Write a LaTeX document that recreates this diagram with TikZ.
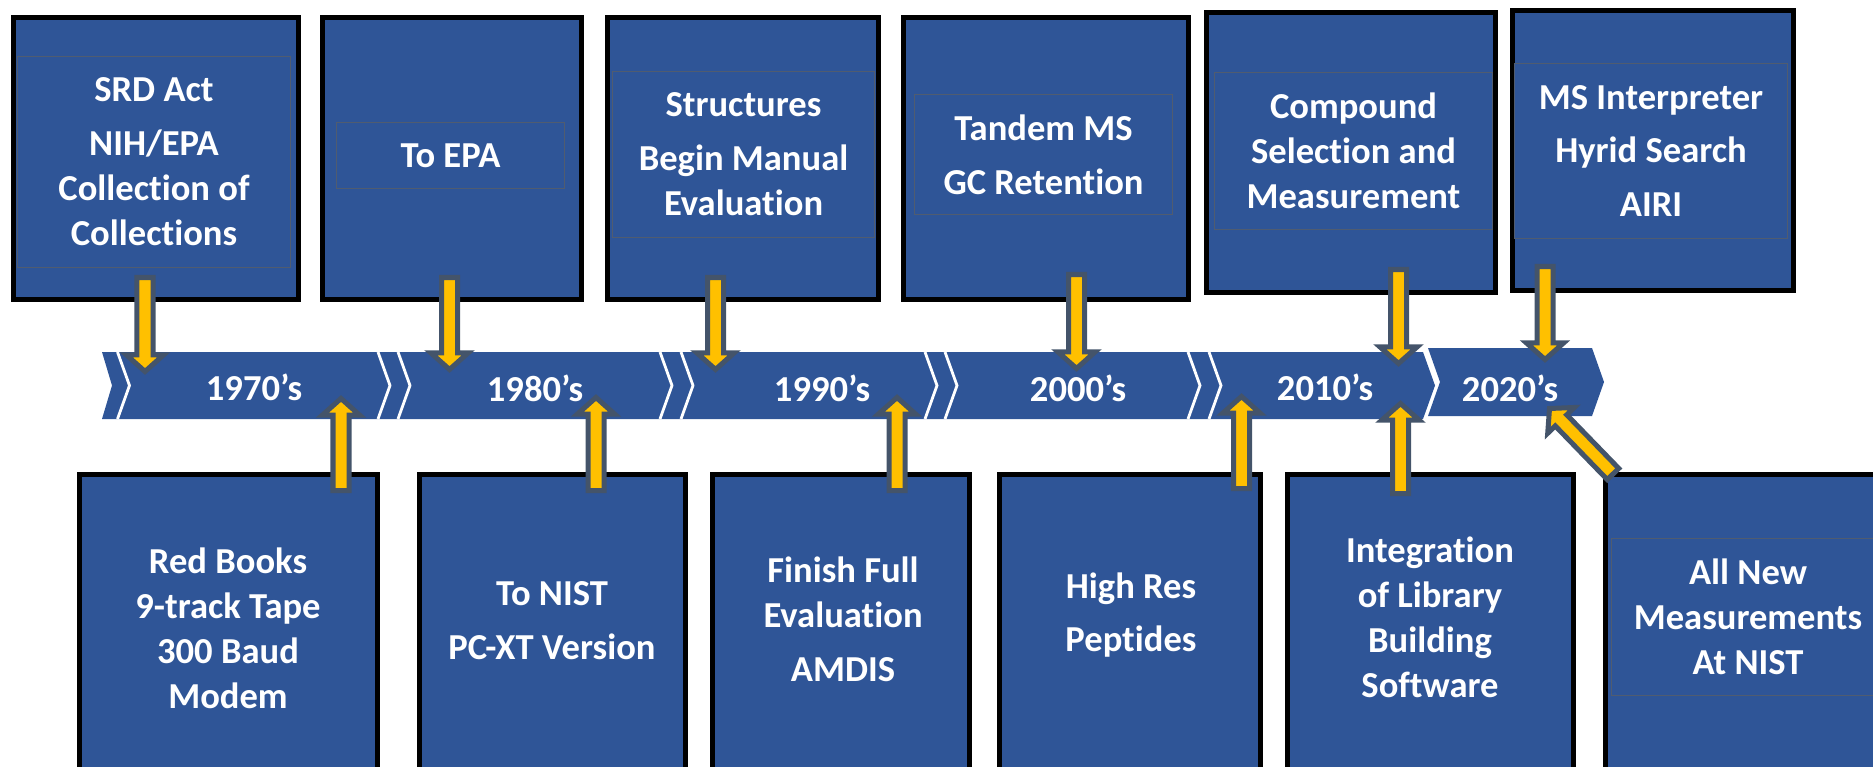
\documentclass[tikz,border=0pt]{standalone}
\usepackage{fontspec}
\setmainfont{Carlito}[Ligatures=CommonOff]
\usetikzlibrary{calc}

\definecolor{eventblue}{RGB}{47,85,151}
\definecolor{framegray}{RGB}{80,92,112}
\definecolor{arrowslate}{RGB}{68,84,106}
\definecolor{arrowgold}{RGB}{255,192,0}

\newcommand{\tlfont}{\fontsize{10.4pt}{12.8pt}\selectfont\bfseries}

\tikzset{
    eventbox/.style={draw=black, line width=0.5mm, fill=eventblue, inner sep=0pt},
    eventtext/.style={draw=framegray, line width=0.1mm, inner sep=0pt, text=white,
        align=center, font=\tlfont},
    bottomtext/.style={inner sep=0pt, text=white, align=center, font=\tlfont},
    decade/.style={inner sep=0pt, text=white, font=\tlfont},
    gapline/.style={draw=white, line width=0.28mm},
    blockarrow/.style={draw=arrowslate, fill=arrowgold, line width=0.5mm, line join=miter,
        to path={-- ($(\tikztostart)!0.8mm!90:(\tikztotarget)$)
            -- ($(\tikztotarget)!1.65mm!(\tikztostart)!0.8mm!-90:(\tikztostart)$)
            -- ($(\tikztotarget)!1.65mm!(\tikztostart)!1.85mm!-90:(\tikztostart)$)
            -- (\tikztotarget)
            -- ($(\tikztotarget)!1.65mm!(\tikztostart)!1.85mm!90:(\tikztostart)$)
            -- ($(\tikztotarget)!1.65mm!(\tikztostart)!0.8mm!90:(\tikztostart)$)
            -- ($(\tikztostart)!0.8mm!-90:(\tikztotarget)$)
            -- cycle}}
}

\begin{document}
\begin{tikzpicture}[x=0.01cm, y=-0.01cm]
    \useasboundingbox (0,0) rectangle (1873,767);
    \clip (0,0) rectangle (1873,767);

    \node[eventbox, minimum width=2.85cm, minimum height=2.82cm] (srd) at (156,158.5) {};
    \node[eventbox, minimum width=2.59cm, minimum height=2.82cm] (epa) at (452,158.5) {};
    \node[eventbox, minimum width=2.71cm, minimum height=2.82cm] (struct) at (743,158.5) {};
    \node[eventbox, minimum width=2.85cm, minimum height=2.82cm] (tandem) at (1046,158.5) {};
    \node[eventbox, minimum width=2.89cm, minimum height=2.80cm] (compound) at (1351,152.5) {};
    \node[eventbox, minimum width=2.81cm, minimum height=2.80cm] (interp) at (1653,150.5) {};

    \node[eventtext, minimum width=2.72cm, minimum height=2.10cm] (srdtext) at (154,162)
        {SRD Act\\[2.5pt] NIH/EPA\\ Collection of\\ Collections};
    \node[eventtext, minimum width=2.27cm, minimum height=0.65cm] (epatext) at (450.5,155.5)
        {To EPA};
    \node[eventtext, minimum width=2.61cm, minimum height=1.65cm] (structtext) at (743.5,154.5)
        {Structures\\[2.5pt] Begin Manual\\ Evaluation};
    \node[eventtext, minimum width=2.57cm, minimum height=1.19cm] (tandemtext) at (1043.5,154.5)
        {Tandem MS\\[2.5pt] GC Retention};
    \node[eventtext, minimum width=2.77cm, minimum height=1.56cm] (compoundtext) at (1353.5,151)
        {Compound\\ Selection and\\ Measurement};
    \node[eventtext, minimum width=2.72cm, minimum height=1.74cm] (interptext) at (1651,151)
        {MS Interpreter\\[2.5pt] Hyrid Search\\[2.5pt] AIRI};

    \node[eventbox, minimum width=2.98cm, minimum height=3.25cm] (redbooks) at (228.5,637) {};
    \node[eventbox, minimum width=2.66cm, minimum height=3.25cm] (nist) at (552.5,637) {};
    \node[eventbox, minimum width=2.57cm, minimum height=3.25cm] (finish) at (841,637) {};
    \node[eventbox, minimum width=2.61cm, minimum height=3.25cm] (highres) at (1130,637) {};
    \node[eventbox, minimum width=2.86cm, minimum height=3.25cm] (integr) at (1430.5,637) {};
    \node[eventbox, minimum width=2.85cm, minimum height=3.25cm] (allnew) at (1748,637) {};

    \node[bottomtext] (redbookstext) at (228,628) {Red Books\\ 9-track Tape\\ 300 Baud\\ Modem};
    \node[bottomtext] (nisttext) at (552,621) {To NIST\\[2.5pt] PC-XT Version};
    \node[bottomtext] (finishtext) at (843,619) {Finish Full\\ Evaluation\\[2.5pt] AMDIS};
    \node[bottomtext] (highrestext) at (1131,615) {High Res\\[2.5pt] Peptides};
    \node[bottomtext] (integrtext) at (1430,617) {Integration\\ of Library\\ Building\\ Software};
    \node[eventtext, minimum width=2.72cm, minimum height=1.56cm] (allnewtext) at (1748,617)
        {All New\\ Measurements\\ At NIST};

    \fill[eventblue] (102,352) -- (1423,352) -- (1435,385.5) -- (1423,419) -- (102,419) -- (112,385.5) -- cycle;
    \fill[eventblue] (1428,348) -- (1592,348) -- (1604,382) -- (1592,416) -- (1428,416) -- (1440,382) -- cycle;
    \draw[gapline] (117.5,352) -- (129.5,385.5) -- (117.5,419);
    \draw[gapline] (378,352) -- (390,385.5) -- (378,419);
    \draw[gapline] (398,352) -- (410,385.5) -- (398,419);
    \draw[gapline] (660,352) -- (672,385.5) -- (660,419);
    \draw[gapline] (681,352) -- (693,385.5) -- (681,419);
    \draw[gapline] (925,352) -- (937,385.5) -- (925,419);
    \draw[gapline] (945,352) -- (957,385.5) -- (945,419);
    \draw[gapline] (1188,352) -- (1200,385.5) -- (1188,419);
    \draw[gapline] (1209,352) -- (1221,385.5) -- (1209,419);

    \node[decade] (d1970) at (254,387) {1970’s};
    \node[decade] (d1980) at (535,388) {1980’s};
    \node[decade] (d1990) at (822,388) {1990’s};
    \node[decade] (d2000) at (1078,388) {2000’s};
    \node[decade] (d2010) at (1325,387) {2010’s};
    \node[decade] (d2020) at (1510,388) {2020’s};

    \coordinate (srd-a) at (145,277.5);
    \coordinate (srd-b) at (145,371.5);
    \coordinate (epa-a) at (449.5,277.5);
    \coordinate (epa-b) at (449.5,369.5);
    \coordinate (struct-a) at (715.5,277.5);
    \coordinate (struct-b) at (715.5,369.5);
    \coordinate (tandem-a) at (1076.5,274.5);
    \coordinate (tandem-b) at (1076.5,368.5);
    \coordinate (compound-a) at (1398.5,269.5);
    \coordinate (compound-b) at (1398.5,363.5);
    \coordinate (interp-a) at (1545,266.5);
    \coordinate (interp-b) at (1545,359.5);
    \draw[blockarrow] (srd-a) to (srd-b);
    \draw[blockarrow] (epa-a) to (epa-b);
    \draw[blockarrow] (struct-a) to (struct-b);
    \draw[blockarrow] (tandem-a) to (tandem-b);
    \draw[blockarrow] (compound-a) to (compound-b);
    \draw[blockarrow] (interp-a) to (interp-b);

    \coordinate (redbooks-a) at (341,490.5);
    \coordinate (redbooks-b) at (341,398.5);
    \coordinate (nist-a) at (596,490.5);
    \coordinate (nist-b) at (596,397.5);
    \coordinate (finish-a) at (897,490.5);
    \coordinate (finish-b) at (897,397.5);
    \coordinate (highres-a) at (1241.5,488.5);
    \coordinate (highres-b) at (1241.5,396.5);
    \coordinate (integr-a) at (1400.5,493.5);
    \coordinate (integr-b) at (1400.5,403.5);
    \coordinate (allnew-a) at (1613,474);
    \coordinate (allnew-b) at (1549.5,408.5);
    \draw[blockarrow] (redbooks-a) to (redbooks-b);
    \draw[blockarrow] (nist-a) to (nist-b);
    \draw[blockarrow] (finish-a) to (finish-b);
    \draw[blockarrow] (highres-a) to (highres-b);
    \draw[blockarrow] (integr-a) to (integr-b);
    \draw[blockarrow] (allnew-a) to (allnew-b);
\end{tikzpicture}
\end{document}
